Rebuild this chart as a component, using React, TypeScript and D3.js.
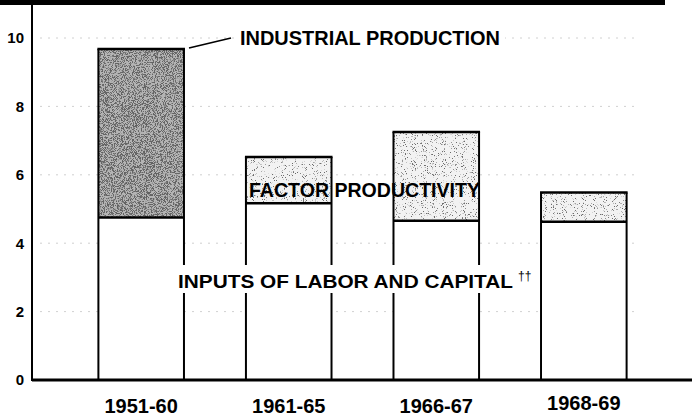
import React from "react";
import * as d3 from "d3";

const periods = ["1951-60", "1961-65", "1966-67", "1968-69"];
const inputs = [4.75, 5.17, 4.66, 4.63];
const production = [9.68, 6.52, 7.25, 5.48];
const yTicks = [0, 2, 4, 6, 8, 10];
const stippleTone = ["dark", "light", "light", "light"];

const W = 692;
const H = 417;
const FONT = "'Liberation Sans', Arial, sans-serif";

export default function App() {
  const y = d3.scaleLinear().domain([0, 10]).range([380, 38]);
  const x = d3
    .scaleBand<string>()
    .domain(periods)
    .range([32, 693])
    .paddingInner(0.42)
    .paddingOuter(0.45);
  const bw = x.bandwidth();

  return (
    <svg
      width={W}
      height={H}
      style={{ position: "absolute", left: 0, top: 0, display: "block", background: "#fff" }}
    >
      <defs>
        <filter id="stipDark" x="0" y="0" width="1" height="1">
          <feTurbulence type="fractalNoise" baseFrequency="1.1" numOctaves="2" seed="4" result="n" />
          <feColorMatrix
            in="n"
            type="matrix"
            values="0.2 0 0 0 0  0.2 0 0 0 0  0.2 0 0 0 0  9 0 0 0 -4.3"
          />
        </filter>
        <filter id="stipLight" x="0" y="0" width="1" height="1">
          <feTurbulence type="fractalNoise" baseFrequency="1.1" numOctaves="2" seed="9" result="n" />
          <feColorMatrix
            in="n"
            type="matrix"
            values="0.2 0 0 0 0  0.2 0 0 0 0  0.2 0 0 0 0  10 0 0 0 -6.2"
          />
        </filter>
      </defs>

      {/* gridlines */}
      {yTicks
        .filter((t) => t > 0)
        .map((t) => (
          <line
            key={"g" + t}
            x1={40}
            x2={640}
            y1={y(t)}
            y2={y(t)}
            stroke="#c4c4c4"
            strokeWidth={0.8}
            strokeDasharray="2 6"
          />
        ))}

      {/* bars */}
      {periods.map((p, i) => {
        const x0 = x(p)!;
        const yTop = y(production[i]);
        const yIn = y(inputs[i]);
        const dark = stippleTone[i] === "dark";
        return (
          <g key={p}>
            <rect x={x0} y={yTop} width={bw} height={yIn - yTop} fill={dark ? "#b4b4b4" : "#f2f2f2"} />
            <rect
              x={x0}
              y={yTop}
              width={bw}
              height={yIn - yTop}
              fill="#fff"
              filter={dark ? "url(#stipDark)" : "url(#stipLight)"}
            />
            <rect x={x0} y={yIn} width={bw} height={y(0) - yIn} fill="#fff" />
            <line x1={x0} x2={x0} y1={yTop} y2={y(0)} stroke="#000" strokeWidth={2} />
            <line x1={x0 + bw} x2={x0 + bw} y1={yTop} y2={y(0)} stroke="#000" strokeWidth={2} />
            <line x1={x0 - 1} x2={x0 + bw + 1} y1={yTop} y2={yTop} stroke="#000" strokeWidth={2.5} />
            <line x1={x0} x2={x0 + bw} y1={yIn} y2={yIn} stroke="#000" strokeWidth={2.5} />
          </g>
        );
      })}

      {/* top border */}
      <rect x={0} y={0} width={665} height={5} fill="#000" />

      {/* axes */}
      <line x1={32} x2={32} y1={4} y2={381} stroke="#000" strokeWidth={2} />
      <line x1={32} x2={W} y1={y(0)} y2={y(0)} stroke="#000" strokeWidth={3} />

      {/* y tick labels */}
      {yTicks.map((t) => (
        <text
          key={"t" + t}
          x={24}
          y={y(t)}
          dy="0.36em"
          textAnchor="end"
          fontFamily={FONT}
          fontWeight="bold"
          fontSize={15}
        >
          {t}
        </text>
      ))}

      {/* category labels */}
      {periods.map((p, i) => (
        <text
          key={"c" + p}
          x={x(p)! + bw / 2}
          y={i === 3 ? 410 : 413}
          textAnchor="middle"
          fontFamily={FONT}
          fontWeight="bold"
          fontSize={20}
        >
          {p}
        </text>
      ))}

      {/* annotations */}
      <rect x={235} y={28} width={270} height={20} fill="#fff" />
      <line x1={189} x2={231} y1={48} y2={38} stroke="#000" strokeWidth={1.5} />
      <text
        x={240}
        y={45}
        fontFamily={FONT}
        fontWeight="bold"
        fontSize={20}
        textLength={260}
        lengthAdjust="spacingAndGlyphs"
      >
        INDUSTRIAL PRODUCTION
      </text>

      <text
        x={249}
        y={197}
        fontFamily={FONT}
        fontWeight="bold"
        fontSize={20}
        textLength={231}
        lengthAdjust="spacingAndGlyphs"
      >
        FACTOR PRODUCTIVITY
      </text>

      <rect x={175} y={265} width={364} height={28} fill="#fff" />
      <text
        x={178}
        y={288}
        fontFamily={FONT}
        fontWeight="bold"
        fontSize={18}
        textLength={335}
        lengthAdjust="spacingAndGlyphs"
      >
        INPUTS OF LABOR AND CAPITAL
      </text>
      <text x={518} y={280} fontFamily={FONT} fontSize={12}>
        ††
      </text>
    </svg>
  );
}
